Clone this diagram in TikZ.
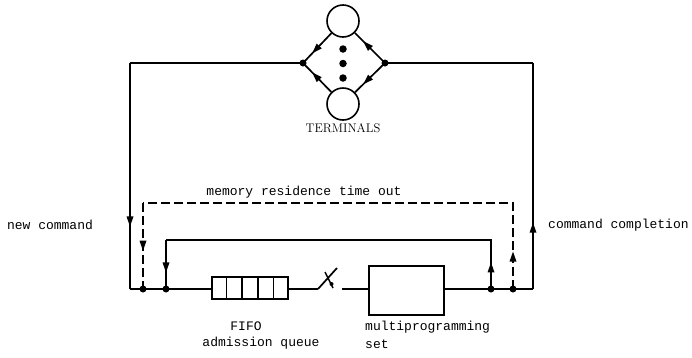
\documentclass[tikz,border=0pt]{standalone}
\usepackage{fontspec}
\setmonofont{Liberation Mono}
\usetikzlibrary{decorations.markings,calc}
\tikzset{
  ln/.style={line width=1.7pt},
  dsh/.style={line width=1.8pt, dash pattern=on 9pt off 4pt},
  marrow/.style={postaction={decorate},decoration={markings,mark=at position #1 with {\fill (3pt,0) -- (-7pt,3.5pt) -- (-7pt,-3.5pt) -- cycle;}}},
  term/.style={draw, circle, line width=1.6pt, minimum size=32pt, inner sep=0pt},
  jdot/.style={circle, fill, inner sep=0pt, minimum size=7pt},
  bdot/.style={circle, fill, inner sep=0pt, minimum size=7.5pt},
  lbl/.style={font=\fontsize{13}{15}\selectfont\ttfamily, inner sep=0pt},
  boxs/.style={draw, line width=1.7pt, inner sep=0pt}
}
\begin{document}
\begin{tikzpicture}[x=1pt,y=-1pt]
\useasboundingbox (0,0) rectangle (692,357);
% terminals
\node[term] (t1) at (343,21) {};
\node[term] (t2) at (343,104) {};
\node[bdot] (d1) at (343,49) {};
\node[bdot] (d2) at (343,63.5) {};
\node[bdot] (d3) at (343,78) {};
\node[jdot] (L) at (303,63) {};
\node[jdot] (R) at (385,63) {};
\node[font=\fontsize{12.5}{14}\rmfamily, inner sep=0pt] (tl) at (343,128) {TERMINALS};
\draw[ln, marrow=0.6] (t1) -- (L.center);
\draw[ln, marrow=0.6] (t2) -- (L.center);
\draw[ln, marrow=0.65] (R.center) -- (t1);
\draw[ln, marrow=0.65] (R.center) -- (t2);
% corners and junctions
\coordinate (cl1) at (130,63);
\coordinate (cl2) at (130,289);
\coordinate (cr1) at (533,63);
\coordinate (cr2) at (533,289);
\node[jdot] (j1) at (143,289) {};
\node[jdot] (j2) at (166,289) {};
\node[jdot] (j3) at (491,289) {};
\node[jdot] (j4) at (513,289) {};
\coordinate (da) at (143,203);
\coordinate (db) at (513,203);
\coordinate (ia) at (166,240);
\coordinate (ib) at (491,240);
% FIFO queue
\node[boxs, minimum width=76pt, minimum height=22pt] (q) at (250,288) {};
\foreach \i in {1,2,3,4} {\draw[line width=1.5pt] ($(q.north west)!\i/5!(q.north east)$) -- ($(q.south west)!\i/5!(q.south east)$);}
% switch
\coordinate (s1) at (318,289);
\coordinate (s2) at (342,289);
\coordinate (s3) at (337,268);
\draw[ln] (s1) -- (s3);
\draw[line width=1.5pt] (325,272) -- (333,288);
\fill (331.5,284) circle (2pt);
% multiprogramming set
\node[boxs, minimum width=75pt, minimum height=49pt] (m) at (406.5,290.5) {};
% outer loop
\draw[ln] (L.center) -- (cl1);
\draw[ln, marrow=0.71] (cl1) -- (cl2);
\draw[ln] (cl2) -- (j1.center) -- (j2.center) -- (q.west |- j2.center);
\draw[ln] (q.east |- j2.center) -- (s1);
\draw[ln] (s2) -- (m.west |- s2);
\draw[ln] (m.east |- s2) -- (j3.center) -- (j4.center) -- (cr2);
\draw[ln, marrow=0.28] (cr2) -- (cr1);
\draw[ln] (cr1) -- (R.center);
% dashed loop
\draw[dsh] (j4.center) -- (db) -- (da);
\draw[dsh, marrow=0.52] (da) -- (j1.center);
\draw[dsh, marrow=0.4] (j4.center) -- (db);
% inner loop
\draw[ln] (j3.center) -- (ib) -- (ia);
\draw[ln, marrow=0.6] (ia) -- (j2.center);
\draw[ln, marrow=0.48] (j3.center) -- (ib);
% labels
\node[lbl] (lm) at (304,192) {memory residence time out};
\node[lbl] (ln1) at (50,225) {new command};
\node[lbl, anchor=west] (lc) at (548,225) {command completion};
\node[lbl] (lf) at (246,326) {FIFO};
\node[lbl] (la) at (261,343) {admission queue};
\node[lbl, anchor=west] (lmp) at (365,327) {multiprogramming};
\node[lbl, anchor=west] (ls) at (365,344) {set};
\end{tikzpicture}
\end{document}
